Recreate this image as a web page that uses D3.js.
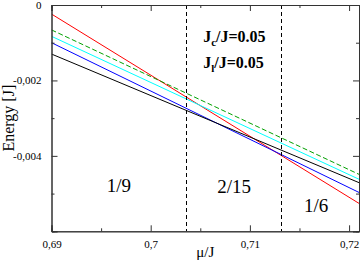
<!DOCTYPE html>
<html>
<head>
<meta charset="utf-8">
<script src="https://cdn.jsdelivr.net/npm/d3@7"></script>
<style>
  html, body { margin: 0; padding: 0; background: #fff; }
  svg { display: block; }
  svg text { font-family: "Liberation Serif", "Times New Roman", serif; }
</style>
</head>
<body>
<div class="chart"></div>
<script>
// data
const muRange = [0.69, 0.721];
const energyRange = [-0.006, 0];

const redE = [-0.00024, -0.00526];
const greenE = [-0.00066, -0.00449];
const cyanE = [-0.00083, -0.00462];
const blueE = [-0.00100, -0.00497];
const blackE = [-0.00130, -0.00471];

const boundaries = [0.70356, 0.71317];
const phaseLabels = ['1/9', '2/15', '1/6'];
const couplings = ['c', 'l'];
const couplingValue = '0.05';

const xTicks = [0.69, 0.70, 0.71, 0.72];
const xTickLabels = ['0,69', '0,7', '0,71', '0,72'];
const xMinor = [0.695, 0.705, 0.715];
const yTicks = [0, -0.002, -0.004, -0.006];
const yTickLabels = ['0', '-0,002', '-0,004', ''];
const yMinor = [-0.001, -0.003, -0.005];

const serif = '"Liberation Serif", "Times New Roman", serif';
const width = 360, height = 263;
const margin = { left: 51.5, right: 1, top: 5, bottom: 31.7 };

const svg = d3.select('.chart')
              .append('svg')
              .attr('width', width)
              .attr('height', height)
              .attr('font-family', serif);

const x = d3.scaleLinear()
            .domain(muRange)
            .range([margin.left, width - margin.right]);
const y = d3.scaleLinear()
            .domain(energyRange)
            .range([height - margin.bottom, margin.top]);

// series
const series = [
    { e: redE, color: '#ff0000', dash: null },
    { e: blueE, color: '#0000ff', dash: null },
    { e: blackE, color: '#000000', dash: null },
    { e: cyanE, color: '#00ffff', dash: null },
    { e: greenE, color: '#00a000', dash: '5,2.5' }
];

const line = d3.line()
               .x(d => x(d[0]))
               .y(d => y(d[1]));

svg.append('defs').append('clipPath')
   .attr('id', 'clip')
   .append('rect')
   .attr('x', x(muRange[0]))
   .attr('y', y(0))
   .attr('width', x(muRange[1]) - x(muRange[0]))
   .attr('height', y(energyRange[0]) - y(0));

const plot = svg.append('g').attr('clip-path', 'url(#clip)');

plot.selectAll('path.series')
    .data(series)
    .join('path')
    .attr('class', 'series')
    .attr('d', s => line(muRange.map((m, i) => [m, s.e[i]])))
    .attr('fill', 'none')
    .attr('stroke', s => s.color)
    .attr('stroke-width', 1)
    .attr('stroke-dasharray', s => s.dash);

// phase boundaries
plot.selectAll('line.boundary')
    .data(boundaries)
    .join('line')
    .attr('class', 'boundary')
    .attr('x1', d => Math.round(x(d)) + 0.5)
    .attr('x2', d => Math.round(x(d)) + 0.5)
    .attr('y1', y(0))
    .attr('y2', y(energyRange[0]))
    .attr('stroke', '#000')
    .attr('stroke-width', 1)
    .attr('stroke-dasharray', '4,3');

// axes (ticks pointing inward)
const fmtX = d => xTickLabels[xTicks.indexOf(d)];
const fmtY = d => yTickLabels[yTicks.indexOf(d)];

function axisGroup(axis, tx, ty) {
    return svg.append('g')
              .attr('transform', `translate(${tx},${ty})`)
              .call(axis)
              .attr('font-family', serif)
              .attr('font-size', 11)
              .call(g => g.selectAll('text').attr('fill', '#000'))
              .call(g => g.selectAll('.domain, line').attr('stroke', '#333'));
}

const plotBottom = y(energyRange[0]);
const plotTop = y(0);
const plotLeft = x(muRange[0]);
const plotRight = x(muRange[1]);

axisGroup(d3.axisBottom(x).tickValues(xMinor).tickSize(-3).tickFormat(''), 0, plotBottom);
axisGroup(d3.axisBottom(x).tickValues(xTicks).tickSize(-6).tickPadding(9).tickFormat(fmtX), 0, plotBottom);
axisGroup(d3.axisTop(x).tickValues(xMinor).tickSize(-3).tickFormat(''), 0, plotTop);
axisGroup(d3.axisTop(x).tickValues(xTicks).tickSize(-6).tickFormat(''), 0, plotTop);

axisGroup(d3.axisLeft(y).tickValues(yMinor).tickSize(-3).tickFormat(''), plotLeft, 0);
axisGroup(d3.axisLeft(y).tickValues(yTicks).tickSize(-6).tickPadding(10).tickFormat(fmtY), plotLeft, 0);
axisGroup(d3.axisRight(y).tickValues(yMinor).tickSize(-3).tickFormat(''), plotRight, 0);
axisGroup(d3.axisRight(y).tickValues(yTicks).tickSize(-6).tickFormat(''), plotRight, 0);

// axis titles
svg.append('text')
   .attr('x', (plotLeft + plotRight) / 2)
   .attr('y', 257)
   .attr('text-anchor', 'middle')
   .attr('font-size', 15)
   .text('\u03bc/J');

svg.append('text')
   .attr('transform', `translate(14,${(plotTop + plotBottom) / 2}) rotate(-90)`)
   .attr('text-anchor', 'middle')
   .attr('font-size', 16)
   .text('Energy [J]');

// coupling annotations
const annot = { mu: 0.70529, e: [-0.00098, -0.00167] };
couplings.forEach((c, i) => {
    const t = svg.append('text')
                 .attr('x', x(annot.mu))
                 .attr('y', y(annot.e[i]))
                 .attr('font-size', 16)
                 .attr('font-weight', 'bold');
    t.append('tspan').text('J');
    t.append('tspan').attr('dy', 4).attr('font-size', 11).text(c);
    t.append('tspan').attr('dy', -4).text(`/J=${couplingValue}`);
});

// phase labels
const phasePos = [[0.6968, -0.00496], [0.7084, -0.00499], [0.71667, -0.00549]];
svg.selectAll('text.phase')
   .data(phaseLabels)
   .join('text')
   .attr('class', 'phase')
   .attr('x', (d, i) => x(phasePos[i][0]))
   .attr('y', (d, i) => y(phasePos[i][1]))
   .attr('text-anchor', 'middle')
   .attr('font-size', 19)
   .text(d => d);
</script>
</body>
</html>
